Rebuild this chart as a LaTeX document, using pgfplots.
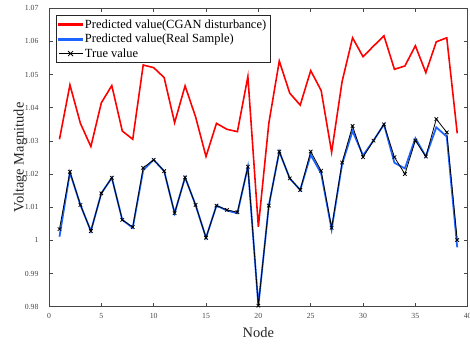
\documentclass[border=0pt]{standalone}
\usepackage{pgfplots}
\pgfplotsset{compat=1.18}
\usepackage{fontspec}
\setmainfont{Liberation Serif}
\definecolor{mred}{RGB}{255,0,0}
\definecolor{mblue}{RGB}{30,100,255}
\definecolor{axgray}{RGB}{70,70,70}
\begin{document}
\begin{tikzpicture}
\begin{axis}[
  scale only axis,
  width=418.7bp, height=298.4bp,
  xmin=0, xmax=40, ymin=0.98, ymax=1.07,
  xtick={0,5,...,40},
  ytick={0.98,0.99,1.00,1.01,1.02,1.03,1.04,1.05,1.06,1.07},
  yticklabels={0.98,0.99,1,1.01,1.02,1.03,1.04,1.05,1.06,1.07},
  tick align=inside,
  tick pos=both,
  axis line style={axgray, line width=0.8pt},
  every tick/.style={axgray, line width=0.6pt},
  major tick length=4bp,
  ticklabel style={font=\fontsize{7.8}{8}\selectfont, text=axgray},
  yticklabel style={xshift=-7bp},
  xticklabel style={yshift=-3bp},
  /pgf/number format/assume math mode=true,
  xlabel={Node},
  ylabel={Voltage Magnitude},
  label style={font=\fontsize{14.5}{16}\selectfont, text=black!85},
  xlabel style={at={(axis description cs:0.5,0)}, anchor=base, yshift=-30.3bp},
  ylabel style={at={(axis description cs:-0.069,0.5)}, anchor=center},
  legend style={at={(axis description cs:0.0167,0.9765)}, anchor=north west,
    font=\fontsize{12.5}{15}\selectfont, draw=black!85,
    row sep=0.4pt, inner xsep=2pt, inner ysep=2pt},
  legend cell align=left,
]
\addlegendimage{legend image code/.code={\fill[mred] (0bp,-1.1bp) rectangle (24bp,1.1bp);}}
\addlegendentry{Predicted value(CGAN disturbance)}
\addlegendimage{legend image code/.code={\fill[mblue] (0bp,-1.1bp) rectangle (24bp,1.1bp);}}
\addlegendentry{Predicted value(Real Sample)}
\addlegendimage{legend image code/.code={\draw[black, line width=0.8pt] (0bp,0bp) -- (24bp,0bp); \draw[black, line width=0.8pt] (9.5bp,-2.5bp) -- (14.5bp,2.5bp) (9.5bp,2.5bp) -- (14.5bp,-2.5bp);}}
\addlegendentry{True value}
\addplot[color=mred, line width=1.6pt, forget plot] coordinates {
(1,1.0305) (2,1.0469) (3,1.0353) (4,1.0283) (5,1.0415) (6,1.0467) (7,1.0330) (8,1.0305)
(9,1.0529) (10,1.0521) (11,1.0491) (12,1.0355) (13,1.0466) (14,1.0373) (15,1.0253)
(16,1.0353) (17,1.0335) (18,1.0328) (19,1.0494) (20,1.0041) (21,1.0353) (22,1.0541)
(23,1.0444) (24,1.0408) (25,1.0512) (26,1.0452) (27,1.0266) (28,1.0479) (29,1.0611)
(30,1.0554) (31,1.0586) (32,1.0617) (33,1.0516) (34,1.0526) (35,1.0587) (36,1.0506)
(37,1.0599) (38,1.0611) (39,1.0323)};
\addplot[color=mblue, line width=1.8pt, forget plot] coordinates {
(1,1.0011) (2,1.0205) (3,1.0107) (4,1.0028) (5,1.0142) (6,1.0189) (7,1.0062) (8,1.0038)
(9,1.0212) (10,1.0243) (11,1.0209) (12,1.0082) (13,1.0190) (14,1.0107) (15,1.0008)
(16,1.0105) (17,1.0090) (18,1.0082) (19,1.0222) (20,0.9803) (21,1.0105) (22,1.0268)
(23,1.0187) (24,1.0152) (25,1.0258) (26,1.0202) (27,1.0033) (28,1.0230) (29,1.0330)
(30,1.0256) (31,1.0301) (32,1.0350) (33,1.0234) (34,1.0217) (35,1.0308) (36,1.0253)
(37,1.0341) (38,1.0313) (39,0.9979)};
\addplot[color=black, line width=0.8pt, mark=x, mark size=2.5pt, mark options={line width=0.8pt}, forget plot] coordinates {
(1,1.0034) (2,1.0207) (3,1.0107) (4,1.0028) (5,1.0142) (6,1.0189) (7,1.0062) (8,1.0040)
(9,1.0219) (10,1.0243) (11,1.0209) (12,1.0082) (13,1.0190) (14,1.0107) (15,1.0008)
(16,1.0105) (17,1.0092) (18,1.0085) (19,1.0222) (20,0.9803) (21,1.0105) (22,1.0268)
(23,1.0187) (24,1.0152) (25,1.0268) (26,1.0210) (27,1.0038) (28,1.0235) (29,1.0345)
(30,1.0251) (31,1.0301) (32,1.0350) (33,1.0251) (34,1.0200) (35,1.0301) (36,1.0253)
(37,1.0366) (38,1.0326) (39,1.0001)};
\end{axis}
\pgfresetboundingbox
\path[use as bounding box] (-49bp,-40.3bp) rectangle (421bp,306.7bp);
\end{tikzpicture}
\end{document}
